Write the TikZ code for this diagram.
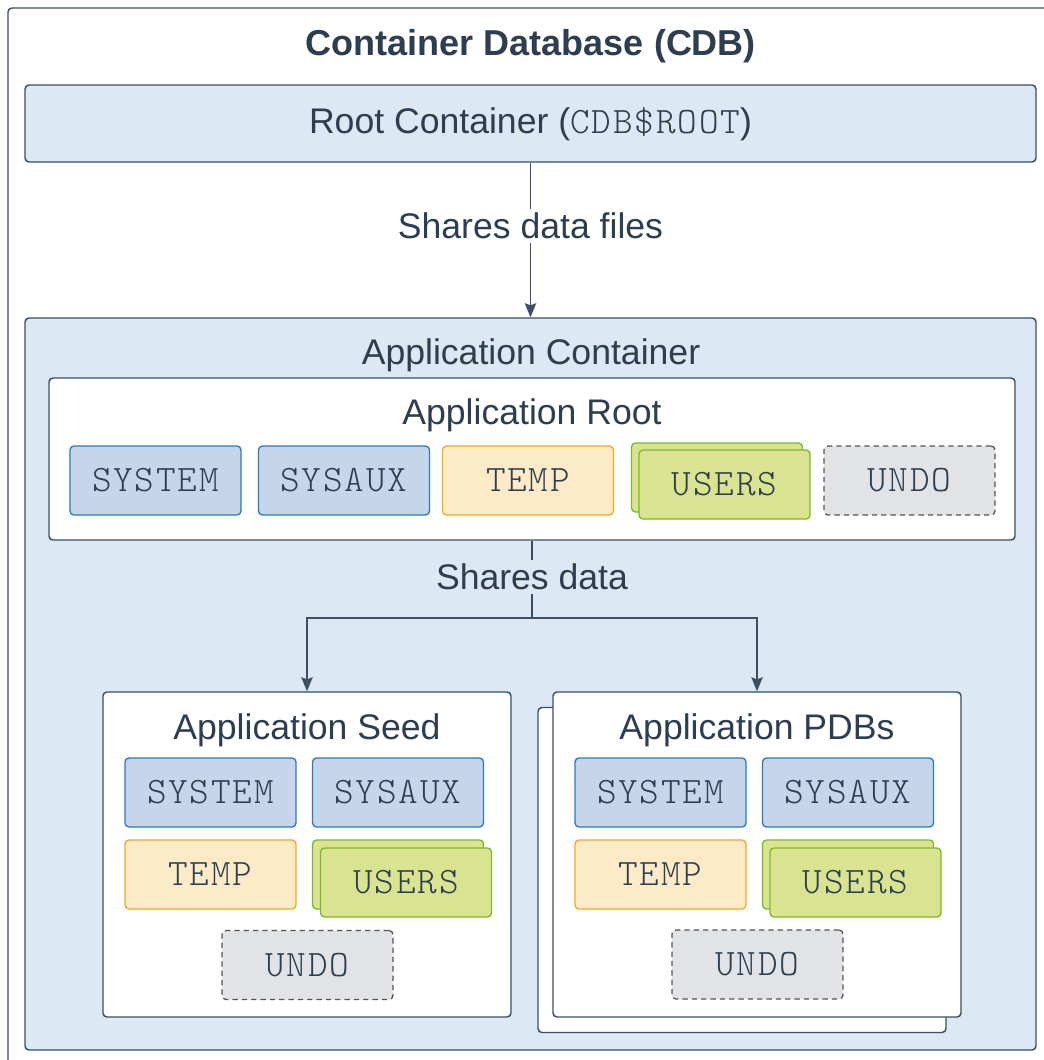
\documentclass[tikz,border=0pt]{standalone}
\usepackage{fontspec}
\setmainfont{Liberation Sans}
\newfontfamily\monof[LetterSpace=5]{Latin Modern Mono Light}
\usetikzlibrary{arrows.meta}
\definecolor{ink}{HTML}{2C3E50}
\definecolor{linec}{HTML}{3D4F63}
\definecolor{lblue}{HTML}{DCE8F4}
\definecolor{sysf}{HTML}{C5D5EA}
\definecolor{sysb}{HTML}{2A7ABF}
\definecolor{tmpf}{HTML}{FCEBC6}
\definecolor{tmpb}{HTML}{F5A623}
\definecolor{usrf}{HTML}{DAE38F}
\definecolor{usrb}{HTML}{7CB72A}
\definecolor{undf}{HTML}{E1E3E6}
\definecolor{undb}{HTML}{555555}
\begin{document}
\begin{tikzpicture}[x=0.75pt,y=-0.75pt,
  box/.style={draw=linec, line width=1.1pt, rounded corners=3pt, inner sep=0pt},
  cont/.style={box, fill=lblue},
  wbox/.style={box, fill=white},
  ts/.style={rounded corners=3pt, line width=1pt, inner sep=0pt, minimum width=128.25pt, minimum height=51.75pt, font=\monof\fontsize{28}{30}\selectfont, text=ink},
  sys/.style={ts, draw=sysb, fill=sysf},
  tmp/.style={ts, draw=tmpb, fill=tmpf},
  usr/.style={ts, draw=usrb, fill=usrf},
  und/.style={ts, draw=undb, fill=undf, dashed, dash pattern=on 4pt off 3pt},
  lbl/.style={font=\fontsize{26.7}{30}\selectfont, text=ink, inner sep=3pt},
  ttl/.style={font=\bfseries\fontsize{27}{30}\selectfont, text=ink, inner sep=0pt},
  conn/.style={draw=linec, line width=1.1pt},
  arr/.style={conn, -{Stealth[length=10.5pt,width=8.5pt,inset=1.5pt]}}
]
\useasboundingbox (0,0) rectangle (1043,1060);
% outer CDB frame
\node[wbox, minimum width=789pt, minimum height=800.25pt] (cdb) at (534,541.5) {};
\node[ttl] (cdbt) at (531,46) {Container Database (CDB)};
% root container
\node[cont, minimum width=758.25pt, minimum height=57.75pt] (root) at (530.5,123.5) {};
\node[lbl] (roott) at (530.5,124) {Root Container ({\monof\fontsize{28}{30}\selectfont CDB\$ROOT})};
% application container
\node[cont, minimum width=758.25pt, minimum height=549pt] (appc) at (530.5,684) {};
\node[lbl] (appct) at (531,355) {Application Container};
% application root
\node[wbox, minimum width=724.5pt, minimum height=121.5pt] (aroot) at (532,459) {};
\node[lbl] (aroott) at (532,415) {Application Root};
\node[sys] (r1) at (155.5,480.5) {SYSTEM};
\node[sys] (r2) at (344,480.5) {SYSAUX};
\node[tmp] (r3) at (528,480.5) {TEMP};
\node[usr] (r4b) at (717,477.5) {};
\node[usr] (r4) at (724.5,484.5) {USERS};
\node[und] (r5) at (909.5,480.5) {UNDO};
% application seed
\node[wbox, minimum width=306pt, minimum height=243.75pt] (seed) at (307,854.5) {};
\node[lbl] (seedt) at (307,730) {Application Seed};
\node[sys] (s1) at (210.5,792.5) {SYSTEM};
\node[sys] (s2) at (398,792.5) {SYSAUX};
\node[tmp] (s3) at (210.5,874.5) {TEMP};
\node[usr] (s4b) at (398,874.5) {};
\node[usr] (s4) at (406,882.5) {USERS};
\node[und] (s5) at (307.5,965) {UNDO};
% application PDBs
\node[wbox, minimum width=306pt, minimum height=243.75pt] (pdbsb) at (742,870) {};
\node[wbox, minimum width=306pt, minimum height=243.75pt] (pdbs) at (757,854.5) {};
\node[lbl] (pdbst) at (757,730) {Application PDBs};
\node[sys] (p1) at (660.5,792.5) {SYSTEM};
\node[sys] (p2) at (848,792.5) {SYSAUX};
\node[tmp] (p3) at (660.5,874.5) {TEMP};
\node[usr] (p4b) at (848,874.5) {};
\node[usr] (p4) at (855.5,882.5) {USERS};
\node[und] (p5) at (757.5,964.5) {UNDO};
% connectors
\draw[arr] (root.south) -- node[lbl, fill=white, pos=0.41] (l1) {Shares data files} (appc.north);
\coordinate (split) at (532,618);
\draw[conn] (aroot.south) -- node[lbl, fill=lblue, pos=0.47] (l2) {Shares data} (split);
\draw[arr] (split) -| (seed.north);
\draw[arr] (split) -| (pdbs.north);
\end{tikzpicture}
\end{document}
